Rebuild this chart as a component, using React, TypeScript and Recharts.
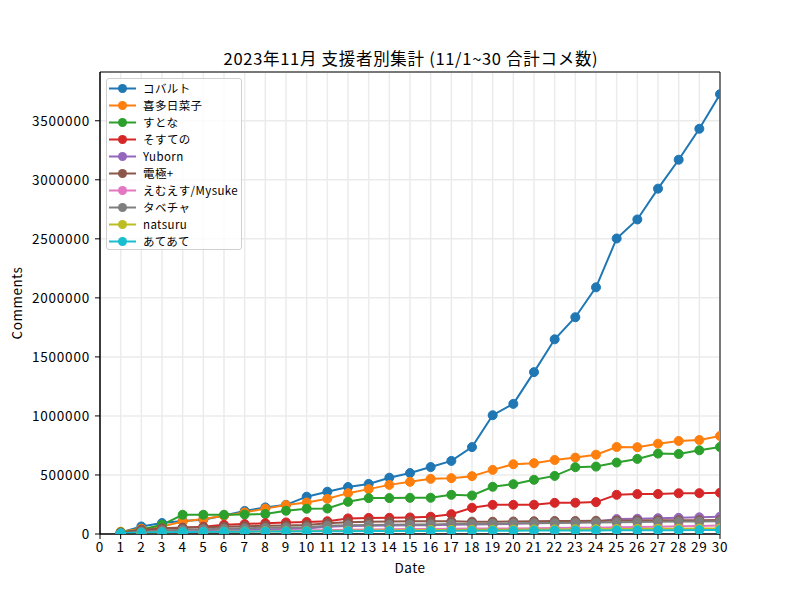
import { LineChart, Line, XAxis, YAxis, CartesianGrid, ReferenceArea } from "recharts";

const FONT = '"Noto Sans CJK JP", "Noto Sans", sans-serif';

const days = Array.from({ length: 30 }, (_, i) => i + 1);
const xTicks = Array.from({ length: 31 }, (_, i) => i);
const yTicks = [0, 500000, 1000000, 1500000, 2000000, 2500000, 3000000, 3500000];
const yMax = 3913000;

// cumulative comment counts per supporter, Nov 1 - Nov 30
const cobalt = [12000, 64000, 93000, 110000, 121000, 157000, 195000, 225000, 247000, 316000, 358000, 398000, 424000, 477000, 516000, 567000, 619000, 736000, 1006000, 1102000, 1371000, 1649000, 1836000, 2089000, 2503000, 2664000, 2925000, 3170000, 3432000, 3725000];
const kita = [19000, 45000, 64000, 106000, 127000, 155000, 183000, 215000, 245000, 267000, 298000, 346000, 380000, 416000, 442000, 467000, 473000, 490000, 543000, 591000, 600000, 627000, 647000, 672000, 737000, 735000, 765000, 788000, 796000, 830000];
const stona = [15000, 36000, 78000, 163000, 163000, 163000, 165000, 169000, 197000, 214000, 216000, 273000, 304000, 304000, 306000, 307000, 332000, 326000, 400000, 422000, 459000, 492000, 566000, 571000, 605000, 636000, 681000, 678000, 709000, 737000];
const sosuteno = [10000, 28000, 42000, 52000, 62000, 78000, 84000, 92000, 98000, 102000, 108000, 132000, 136000, 137000, 140000, 146000, 168000, 222000, 247000, 247000, 248000, 264000, 265000, 270000, 332000, 338000, 339000, 345000, 346000, 349000];
const yuborn = [3000, 9000, 14000, 21000, 26000, 31000, 34000, 39000, 42000, 47000, 61000, 67000, 70000, 71000, 74000, 75000, 78000, 81000, 83000, 86000, 92000, 95000, 100000, 104000, 126000, 129000, 134000, 137000, 141000, 146000];
const denkyoku = [8000, 35000, 48000, 54000, 57000, 62000, 66000, 70000, 72000, 76000, 92000, 100000, 104000, 106000, 108000, 108000, 107000, 104000, 104000, 106000, 108000, 110000, 110000, 112000, 114000, 115000, 116000, 116000, 117000, 118000];
const mysuke = [2000, 6000, 11000, 14000, 17000, 21000, 22000, 25000, 29000, 30000, 33000, 37000, 38000, 40000, 42000, 43000, 44000, 46000, 46000, 47000, 48000, 51000, 52000, 53000, 58000, 60000, 62000, 65000, 68000, 72000];
const tabecha = [5000, 20000, 30000, 36000, 40000, 45000, 48000, 52000, 55000, 58000, 70000, 74000, 76000, 78000, 80000, 81000, 84000, 86000, 87000, 90000, 92000, 94000, 96000, 97000, 100000, 102000, 104000, 105000, 106000, 108000];
const natsuru = [3000, 8000, 12000, 15000, 18000, 19000, 21000, 23000, 24000, 25000, 27000, 28000, 30000, 31000, 31000, 33000, 34000, 35000, 36000, 37000, 38000, 39000, 40000, 41000, 42000, 43000, 44000, 45000, 46000, 47000];
const atete = [6000, 12000, 15000, 17000, 18000, 19000, 20000, 21000, 22000, 23000, 24000, 24000, 25000, 25000, 26000, 26000, 27000, 27000, 28000, 28000, 29000, 29000, 30000, 30000, 31000, 31000, 32000, 32000, 33000, 33000];

const series = [
  { key: "cobalt", name: "コバルト", color: "#1f77b4", values: cobalt },
  { key: "kita", name: "喜多日菜子", color: "#ff7f0e", values: kita },
  { key: "stona", name: "すとな", color: "#2ca02c", values: stona },
  { key: "sosuteno", name: "そすての", color: "#d62728", values: sosuteno },
  { key: "yuborn", name: "Yuborn", color: "#9467bd", values: yuborn },
  { key: "denkyoku", name: "電極+", color: "#8c564b", values: denkyoku },
  { key: "mysuke", name: "えむえす/Mysuke", color: "#e377c2", values: mysuke },
  { key: "tabecha", name: "タベチャ", color: "#7f7f7f", values: tabecha },
  { key: "natsuru", name: "natsuru", color: "#bcbd22", values: natsuru },
  { key: "atete", name: "あてあて", color: "#17becf", values: atete },
];

const rows = days.map((day, i) => {
  const row: Record<string, number> = { day };
  series.forEach(s => { row[s.key] = s.values[i]; });
  return row;
});

const tickStyle = { fill: "#000", fontSize: 13.5, fontFamily: FONT, letterSpacing: 0.8 };

export default function App() {
  return (
    <div style={{ position: "absolute", left: 0, top: 0, width: 800, height: 600, background: "#fff", fontFamily: FONT }}>
      <LineChart width={800} height={600} data={rows} margin={{ top: 72, right: 80, bottom: 36, left: 0 }}>
        <CartesianGrid stroke="#ebebeb" strokeWidth={1.5} />
        <XAxis
          dataKey="day"
          type="number"
          domain={[0, 30]}
          ticks={xTicks}
          interval={0}
          allowDataOverflow
          height={30}
          tickSize={5}
          tickMargin={3}
          stroke="#000"
          tick={tickStyle}
        />
        <YAxis
          type="number"
          domain={[0, yMax]}
          ticks={yTicks}
          allowDataOverflow
          width={100}
          tickSize={5}
          tickMargin={5}
          stroke="#000"
          tick={tickStyle}
        />
        {series.map(s => (
          <Line
            key={s.key}
            dataKey={s.key}
            name={s.name}
            stroke={s.color}
            strokeWidth={2}
            dot={{ r: 4.5, fill: s.color, stroke: s.color, strokeWidth: 1 }}
            activeDot={false}
            isAnimationActive={false}
          />
        ))}
        <ReferenceArea x1={0} x2={30} y1={0} y2={yMax} fill="none" stroke="#000" strokeWidth={1} ifOverflow="visible" />
      </LineChart>

      <div style={{ position: "absolute", left: 411, top: 58, transform: "translate(-50%, -50%)", fontSize: 16.5, letterSpacing: 0.7, whiteSpace: "nowrap" }}>
        2023年11月 支援者別集計 (11/1~30 合計コメ数)
      </div>
      <div style={{ position: "absolute", left: 410, top: 567, transform: "translate(-50%, -50%)", fontSize: 13.5, letterSpacing: 0.5 }}>
        Date
      </div>
      <div style={{ position: "absolute", left: 16, top: 303, transform: "translate(-50%, -50%) rotate(-90deg)", fontSize: 13.5, letterSpacing: 0.5 }}>
        Comments
      </div>

      <div style={{ position: "absolute", left: 106, top: 78, width: 134, height: 170, border: "1px solid #d0d0d0", borderRadius: 3, background: "rgba(255,255,255,0.8)", boxSizing: "content-box" }}>
        {series.map((s, i) => (
          <div key={s.key} style={{ position: "absolute", left: 0, top: 0.5 + i * 17, height: 17, width: 134, display: "flex", alignItems: "center" }}>
            <svg width={34} height={17} style={{ flex: "none" }}>
              <line x1={2} x2={29} y1={8.5} y2={8.5} stroke={s.color} strokeWidth={2} />
              <circle cx={15.5} cy={8.5} r={4.5} fill={s.color} />
            </svg>
            <span style={{ fontSize: 11.5, marginLeft: 2, letterSpacing: 0.4, whiteSpace: "nowrap", color: "#000" }}>{s.name}</span>
          </div>
        ))}
      </div>
    </div>
  );
}
